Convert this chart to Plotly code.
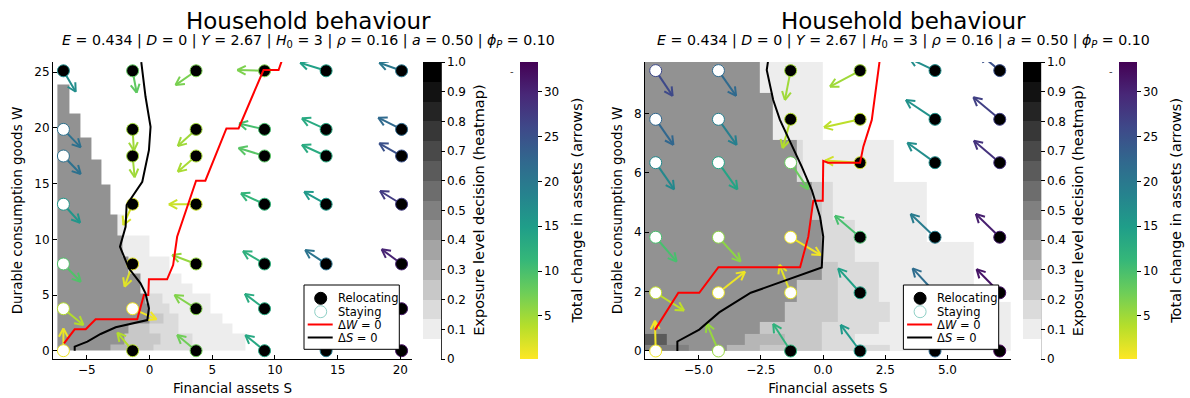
import math
import plotly.graph_objects as go
import plotly.colors as pc

# ---------------------------------------------------------------
# Shared scales
# ---------------------------------------------------------------
CHANGE_MIN, CHANGE_MAX = 0.2, 33.3          # arrow colour scale
CHANGE_TICKS = [5, 10, 15, 20, 25, 30]
N_BANDS = 15                                 # discrete exposure levels
EXPOSURE_TICKS = [0, 0.1, 0.2, 0.3, 0.4, 0.5, 0.6, 0.7, 0.8, 0.9, 1.0]
EXPOSURE_TICKTEXT = ["0", "0.1", "0.2", "0.3", "0.4", "0.5", "0.6", "0.7", "0.8", "0.9", "1.0"]

TITLE = "Household behaviour"
SUBTITLE = ("<i>E</i> = 0.434 | <i>D</i> = 0 | <i>Y</i> = 2.67 | <i>H</i><sub>0</sub> = 3 | "
            "<i>ρ</i> = 0.16 | <i>a</i> = 0.50 | <i>ϕ</i><sub><i>P</i></sub> = 0.10")
LEGEND_LABELS = ["Relocating", "Staying", "Δ<i>W</i> = 0", "Δ<i>S</i> = 0"]

# ---------------------------------------------------------------
# Left panel: wide state grid
# ---------------------------------------------------------------
L_S_PTS = [-6.87, -1.35, 3.71, 9.17, 14.08, 20.1]
L_W_PTS = [0.0, 3.77, 7.79, 13.15, 17.48, 19.87, 25.13]
L_S_RANGE = [-7.70, 20.93]
L_W_RANGE = [-0.745, 25.92]
# arrow heads, indexed [S column][W row]
L_END_S = [
    [-6.87, -5.27, -5.49, -5.54, -5.49, -5.49, -5.89],
    [-2.57, 0.56, -1.99, -2.09, -1.19, -1.25, -1.03],
    [2.20, 1.99, 1.80, 1.54, 2.25, 2.25, 2.07],
    [7.64, 7.60, 7.45, 7.29, 7.10, 7.14, 7.00],
    [12.50, 12.50, 12.41, 12.33, 12.15, 12.15, 12.01],
    [18.60, 18.60, 18.51, 18.38, 18.32, 18.24, 18.32],
]
L_END_W = [
    [2.00, 2.31, 6.19, 11.49, 15.86, 18.26, 23.25],
    [1.62, 2.82, 5.75, 11.28, 15.57, 17.95, 23.16],
    [1.41, 5.00, 8.59, 13.14, 16.07, 18.38, 23.85],
    [1.40, 5.10, 8.94, 14.13, 18.20, 20.40, 25.20],
    [1.60, 5.30, 9.04, 14.27, 18.47, 20.86, 25.85],
    [1.50, 5.20, 9.10, 14.34, 18.62, 20.92, 25.85],
]
L_CHANGE = [
    [1.0, 4.0, 9.5, 16.0, 21.0, 21.0, 17.0],
    [4.0, 0.8, 1.7, 2.2, 5.0, 5.0, 8.5],
    [7.5, 6.5, 5.5, 2.8, 4.5, 5.0, 7.0],
    [13.5, 13.0, 12.2, 11.5, 9.0, 10.0, 6.8],
    [19.0, 19.0, 20.5, 15.5, 13.0, 13.2, 14.5],
    [32.0, 31.0, 30.0, 27.5, 25.0, 22.0, 20.0],
]
L_STAY = [
    [1, 1, 1, 1, 1, 1, 0],
    [0, 1, 0, 0, 0, 0, 0],
    [0, 0, 0, 0, 0, 0, 0],
    [0, 0, 0, 0, 0, 0, 0],
    [0, 0, 0, 0, 0, 0, 0],
    [0, 0, 0, 0, 0, 0, 0],
]
L_DW0_S = [-6.82, -5.97, -5.09, -4.30, -0.98, -0.45, -0.10, -0.05, 1.40, 1.88, 2.20, 2.60,
           3.26, 3.71, 4.45, 6.13, 7.10, 9.09, 10.29, 10.60]
L_DW0_W = [0.66, 1.92, 1.92, 2.82, 2.82, 5.00, 5.00, 6.41, 6.41, 7.69, 10.23, 11.58,
           13.80, 15.26, 15.26, 19.96, 19.96, 25.20, 25.20, 26.20]
L_DS0_S = [-5.97, -5.97, -4.96, -3.90, -2.70, -1.25, -0.18, -0.05, -0.32, -0.72, -1.65, -2.36,
           -1.91, -1.83, -0.98, -0.58, -0.05, 0.08, -0.32, -0.66]
L_DS0_W = [0.0, 0.36, 0.81, 1.50, 2.10, 2.46, 2.75, 3.80, 5.15, 6.05, 7.40, 9.34,
           11.13, 13.08, 14.43, 15.17, 18.00, 20.10, 22.80, 25.90]
# exposure heatmap: row edges in W, and per row (S right edge, band) runs from the left edge
L_HM_S0 = -7.35
L_HM_W_EDGES = [0, 0.6, 1.5, 2.4, 3.3, 4.2, 5.1, 6.0, 6.9, 8.5, 10.3, 12.2, 14.9, 17.2, 19.1, 21.3, 23.9]
L_HM_ROWS = [
    [(-3.1, 6), (-1.3, 4), (0.3, 3), (3.4, 2), (7.64, 1)],
    [(-2.0, 6), (0.9, 3), (3.4, 2), (7.64, 1)],
    [(-1.65, 6), (-0.05, 3), (2.3, 2), (6.57, 1)],
    [(-0.05, 6), (1.1, 3), (2.3, 2), (5.78, 1)],
    [(-0.05, 6), (1.6, 2), (4.85, 1)],
    [(-0.3, 6), (1.0, 2), (4.85, 1)],
    [(-0.75, 6), (3.4, 1)],
    [(-0.75, 6), (2.5, 1)],
    [(-1.7, 6), (1.6, 1)],
    [(-2.2, 6), (-0.05, 1)],
    [(-2.57, 6), (-2.0, 1)],
    [(-3.1, 6)],
    [(-3.85, 6)],
    [(-4.65, 6)],
    [(-5.5, 6)],
    [(-6.4, 6)],
]

# ---------------------------------------------------------------
# Right panel: close-up around the origin
# ---------------------------------------------------------------
R_S_PTS = [-6.72, -4.2, -1.3, 1.49, 4.5, 7.1]
R_W_PTS = [0.0, 1.96, 3.83, 6.34, 7.8, 9.44]
R_S_RANGE = [-7.15, 7.54]
R_W_RANGE = [-0.27, 9.73]
R_END_S = [
    [-6.75, -5.58, -5.88, -5.98, -6.01, -6.04],
    [-4.67, -3.13, -3.31, -3.44, -3.47, -3.49],
    [-2.00, -1.75, -0.09, -0.59, -1.62, -1.53],
    [0.71, 0.61, 0.48, 0.08, 0.04, 0.28],
    [3.60, 3.60, 3.52, 3.39, 3.33, 3.47],
    [6.20, 6.17, 6.14, 6.06, 6.04, 6.30],
]
R_END_W = [
    [1.02, 1.36, 3.01, 5.44, 6.94, 8.59],
    [0.93, 2.67, 3.01, 5.44, 6.94, 8.59],
    [0.91, 2.90, 3.23, 5.44, 6.83, 8.45],
    [0.88, 2.78, 4.55, 6.41, 7.53, 8.90],
    [0.90, 2.78, 4.61, 7.01, 8.45, 9.85],
    [0.90, 2.75, 4.61, 7.08, 8.54, 10.00],
]
R_CHANGE = [
    [0.8, 3.3, 10.0, 17.8, 22.4, 26.0],
    [5.5, 1.0, 6.0, 14.0, 19.0, 22.0],
    [12.0, 1.5, 0.8, 8.0, 4.0, 5.0],
    [15.5, 14.5, 10.0, 2.5, 3.5, 5.0],
    [22.0, 21.5, 19.5, 17.0, 16.5, 17.0],
    [33.0, 31.5, 30.5, 28.5, 27.0, 25.0],
]
R_STAY = [
    [1, 1, 1, 1, 1, 1],
    [1, 1, 1, 1, 1, 1],
    [0, 1, 1, 1, 0, 0],
    [0, 0, 0, 0, 0, 0],
    [0, 0, 0, 0, 0, 0],
    [0, 0, 0, 0, 0, 0],
]
R_DW0_S = [-6.75, -5.81, -4.97, -4.20, -0.92, -0.59, -0.39, -0.01, 0.01, 0.20, 1.49, 1.62, 1.96, 2.09, 2.28]
R_DW0_W = [0.71, 1.96, 1.96, 2.82, 2.82, 3.85, 5.06, 5.06, 6.40, 6.34, 6.34, 6.88, 7.78, 8.56, 9.80]
R_DS0_S = [-5.85, -5.85, -4.97, -4.17, -2.90, -1.52, -0.05, 0.01, -0.12, -0.45, -0.85, -1.73, -2.00, -2.26, -2.20]
R_DS0_W = [0.0, 0.32, 0.72, 1.30, 1.96, 2.36, 2.81, 3.85, 4.52, 5.42, 6.20, 7.78, 8.45, 9.46, 9.80]
R_HM_S0 = -7.2
R_HM_W_EDGES = [0, 0.2, 0.57, 0.99, 1.66, 2.39, 3.0, 3.68, 4.41, 5.7, 7.1, 8.68, 9.8]
R_HM_ROWS = [
    [(-5.41, 7), (-3.87, 6), (-2.53, 4), (-0.06, 3), (2.7, 2), (7.6, 1)],
    [(-6.28, 9), (-3.13, 6), (-1.53, 4), (-0.06, 3), (1.28, 2), (7.6, 1)],
    [(-2.53, 6), (-0.06, 3), (2.22, 2), (7.6, 1)],
    [(-1.53, 6), (0.61, 3), (2.7, 2), (7.6, 1)],
    [(-1.06, 6), (0.61, 3), (2.22, 2), (6.04, 1)],
    [(-0.06, 6), (0.61, 3), (2.22, 2), (6.04, 1)],
    [(-0.06, 6), (1.28, 2), (6.04, 1)],
    [(-0.06, 6), (1.28, 2), (4.16, 1)],
    [(-0.46, 6), (-0.06, 3), (0.41, 2), (4.16, 1)],
    [(-1.06, 6), (-0.8, 2), (2.83, 1)],
    [(-2.0, 6), (0.01, 1)],
    [(-2.53, 6), (0.01, 1)],
]

# ---------------------------------------------------------------
# Helpers
# ---------------------------------------------------------------
VIRIDIS = [pc.hex_to_rgb(c) for c in pc.sequential.Viridis]


def change_color(v):
    """Reversed viridis: small changes yellow, large changes purple."""
    t = (v - CHANGE_MIN) / (CHANGE_MAX - CHANGE_MIN)
    u = min(max(1.0 - t, 0.0), 1.0) * (len(VIRIDIS) - 1)
    i = min(int(u), len(VIRIDIS) - 2)
    f = u - i
    a, b = VIRIDIS[i], VIRIDIS[i + 1]
    return "rgb({},{},{})".format(*[round(a[k] + (b[k] - a[k]) * f) for k in range(3)])


def band_colorscale():
    cs = []
    for i in range(N_BANDS):
        g = round(255 * (1 - i / (N_BANDS - 1)))
        col = f"rgb({g},{g},{g})"
        cs.append([i / N_BANDS, col])
        cs.append([(i + 1) / N_BANDS, col])
    return cs


def build_heatmap(s0, rows):
    edges = sorted({s0} | {s for row in rows for s, _ in row})
    z = []
    for row in rows:
        line = []
        for a, b in zip(edges[:-1], edges[1:]):
            mid = 0.5 * (a + b)
            band = 0
            for s_end, bnd in row:
                if mid < s_end:
                    band = bnd
                    break
            line.append(None if band == 0 else (band + 0.5) / N_BANDS)
        z.append(line)
    return edges, z


# page geometry in pixels -> paper fractions
W_PX, H_PX = 1190, 398


def px(xp):
    return xp / W_PX


def py(yp):
    return 1 - yp / H_PX


Y_DOM = [py(359), py(62)]
BAR_Y = py(210.5)
BAR_LEN = 297
BAR_THICK = 18
HEAD_LEN = 9.5        # arrow barb length, px
HEAD_ANGLE = 28       # arrow barb half-angle, degrees


def arrow_path(sx, sy, ex, ey, kx, ky):
    """Shaft plus an open V head; barbs sized in screen pixels."""
    dx, dy = (ex - sx) * kx, (ey - sy) * ky
    ang = math.atan2(dy, dx)
    xs, ys = [sx, ex, None], [sy, ey, None]
    for sgn in (1, -1):
        a = ang + math.pi - sgn * math.radians(HEAD_ANGLE)
        xs += [ex + HEAD_LEN * math.cos(a) / kx, ex, None]
        ys += [ey + HEAD_LEN * math.sin(a) / ky, ey, None]
    return xs, ys


PANELS = [
    dict(xa="x", ya="y", s_pts=L_S_PTS, w_pts=L_W_PTS, s_range=L_S_RANGE, w_range=L_W_RANGE,
         dom=[53, 412], end_s=L_END_S, end_w=L_END_W, change=L_CHANGE, stay=L_STAY,
         dw_s=L_DW0_S, dw_w=L_DW0_W, ds_s=L_DS0_S, ds_w=L_DS0_W,
         hm_s0=L_HM_S0, hm_w=L_HM_W_EDGES, hm_rows=L_HM_ROWS,
         s_ticks=[-5, 0, 5, 10, 15, 20], w_ticks=[0, 5, 10, 15, 20, 25], s_fmt="",
         gray_bar=423.3, arrow_bar=520.0, center=308.0, legend_right=399.3),
    dict(xa="x2", ya="y2", s_pts=R_S_PTS, w_pts=R_W_PTS, s_range=R_S_RANGE, w_range=R_W_RANGE,
         dom=[645, 1010.7], end_s=R_END_S, end_w=R_END_W, change=R_CHANGE, stay=R_STAY,
         dw_s=R_DW0_S, dw_w=R_DW0_W, ds_s=R_DS0_S, ds_w=R_DS0_W,
         hm_s0=R_HM_S0, hm_w=R_HM_W_EDGES, hm_rows=R_HM_ROWS,
         s_ticks=[-5, -2.5, 0, 2.5, 5], w_ticks=[0, 2, 4, 6, 8], s_fmt=".1f",
         gray_bar=1022.7, arrow_bar=1119.3, center=903.0, legend_right=998.7),
]

fig = go.Figure()
annotations = []
shapes = []
axis_style = dict(showline=True, linecolor="black", linewidth=1, ticks="inside", ticklen=4,
                  tickcolor="black", showgrid=False, zeroline=False, mirror=False,
                  tickfont=dict(size=12, color="black"))
layout_axes = {}

for n, p in enumerate(PANELS):
    xa, ya = p["xa"], p["ya"]
    suffix = "" if n == 0 else str(n + 1)
    layout_axes["xaxis" + suffix] = dict(
        domain=[px(p["dom"][0]), px(p["dom"][1])], range=p["s_range"], anchor=ya,
        tickvals=p["s_ticks"], tickformat=p["s_fmt"],
        title=dict(text="Financial assets S", standoff=7, font=dict(size=13.5)), **axis_style)
    layout_axes["yaxis" + suffix] = dict(
        domain=Y_DOM, range=p["w_range"], anchor=xa, tickvals=p["w_ticks"],
        title=dict(text="Durable consumption goods W", standoff=8, font=dict(size=13.5)),
        **axis_style)

    # pixels per data unit on this panel's axes (for arrow-head geometry)
    kx = (p["dom"][1] - p["dom"][0]) / (p["s_range"][1] - p["s_range"][0])
    ky = (359 - 62) / (p["w_range"][1] - p["w_range"][0])

    # exposure heatmap
    hm_x, hm_z = build_heatmap(p["hm_s0"], p["hm_rows"])
    fig.add_trace(go.Heatmap(
        x=hm_x, y=p["hm_w"], z=hm_z, xaxis=xa, yaxis=ya,
        zmin=0, zmax=1, colorscale=band_colorscale(), hoverinfo="skip",
        colorbar=dict(
            x=px(p["gray_bar"]), xanchor="left", y=BAR_Y, yanchor="middle",
            len=BAR_LEN, lenmode="pixels", thickness=BAR_THICK, xpad=0, ypad=0,
            outlinewidth=0, ticks="outside", ticklen=4, tickcolor="black",
            tickvals=EXPOSURE_TICKS, ticktext=EXPOSURE_TICKTEXT,
            tickfont=dict(size=12, color="black"),
        ),
    ))
    bx = px(p["gray_bar"] + BAR_THICK)
    shapes.append(dict(type="line", xref="paper", yref="paper", x0=bx, x1=bx,
                       y0=Y_DOM[0], y1=Y_DOM[1], line=dict(color="black", width=1)))
    annotations.append(dict(x=px(p["gray_bar"] + 55), y=BAR_Y, xref="paper", yref="paper",
                            text="Exposure level decision (heatmap)", textangle=-90,
                            showarrow=False, xanchor="center", yanchor="middle",
                            font=dict(size=14.5, color="black")))

    # grid of states
    sx_all, sy_all, ex_all, ey_all, c_all, stay_flags = [], [], [], [], [], []
    for ci, s in enumerate(p["s_pts"]):
        for ri, w in enumerate(p["w_pts"]):
            sx_all.append(s)
            sy_all.append(w)
            ex_all.append(p["end_s"][ci][ri])
            ey_all.append(p["end_w"][ci][ri])
            c_all.append(p["change"][ci][ri])
            stay_flags.append(p["stay"][ci][ri])

    # arrows from each state to its successor
    for sx, sy, ex, ey, c in zip(sx_all, sy_all, ex_all, ey_all, c_all):
        ax_x, ax_y = arrow_path(sx, sy, ex, ey, kx, ky)
        fig.add_trace(go.Scatter(x=ax_x, y=ax_y, xaxis=xa, yaxis=ya, mode="lines",
                                 line=dict(color=change_color(c), width=2),
                                 showlegend=False, hoverinfo="skip"))

    # invisible markers at the arrow heads carry the arrow colour bar
    fig.add_trace(go.Scatter(
        x=ex_all, y=ey_all, xaxis=xa, yaxis=ya, mode="markers", showlegend=False,
        hoverinfo="skip",
        marker=dict(size=2, opacity=0, color=c_all, cmin=CHANGE_MIN, cmax=CHANGE_MAX,
                    colorscale="Viridis", reversescale=True, showscale=True,
                    colorbar=dict(
                        x=px(p["arrow_bar"]), xanchor="left", y=BAR_Y, yanchor="middle",
                        len=BAR_LEN, lenmode="pixels", thickness=BAR_THICK, xpad=0, ypad=0,
                        outlinewidth=0, ticks="outside", ticklen=4, tickcolor="black",
                        tickvals=CHANGE_TICKS, tickfont=dict(size=12, color="black"),
                    )),
    ))
    annotations.append(dict(x=px(p["arrow_bar"] + 56), y=BAR_Y, xref="paper", yref="paper",
                            text="Total change in assets (arrows)", textangle=-90,
                            showarrow=False, xanchor="center", yanchor="middle",
                            font=dict(size=14.5, color="black")))
    annotations.append(dict(x=px(p["arrow_bar"] - 8.3), y=py(71.7), xref="paper",
                            yref="paper", text="-", showarrow=False, xanchor="center",
                            yanchor="middle", font=dict(size=10, color="#444")))

    # relocating / staying states
    for flag, fill in ((0, "black"), (1, "white")):
        idx = [i for i, f in enumerate(stay_flags) if f == flag]
        fig.add_trace(go.Scatter(
            x=[sx_all[i] for i in idx], y=[sy_all[i] for i in idx],
            xaxis=xa, yaxis=ya, mode="markers", showlegend=False, hoverinfo="skip",
            cliponaxis=False,
            marker=dict(size=12, color=fill,
                        line=dict(width=1, color=[change_color(c_all[i]) for i in idx])),
        ))

    # nullclines
    fig.add_trace(go.Scatter(x=p["dw_s"], y=p["dw_w"], xaxis=xa, yaxis=ya, mode="lines",
                             line=dict(color="red", width=2), showlegend=False, hoverinfo="skip"))
    fig.add_trace(go.Scatter(x=p["ds_s"], y=p["ds_w"], xaxis=xa, yaxis=ya, mode="lines",
                             line=dict(color="black", width=2), showlegend=False, hoverinfo="skip"))

    # legend box
    r = p["legend_right"]
    l = r - 95.3
    shapes.append(dict(type="rect", xref="paper", yref="paper", x0=px(l), x1=px(r),
                       y0=py(349.3), y1=py(285), fillcolor="white",
                       line=dict(color="black", width=1), layer="above"))
    rows_y = [298.3, 311.7, 324.5, 337.5]
    cx = l + 16.7
    for k, (label, ry) in enumerate(zip(LEGEND_LABELS, rows_y)):
        if k < 2:
            fill = "black" if k == 0 else "white"
            edge = "black" if k == 0 else "#8fd0c6"
            shapes.append(dict(type="circle", xref="paper", yref="paper",
                               x0=px(cx - 6), x1=px(cx + 6), y0=py(ry + 6), y1=py(ry - 6),
                               fillcolor=fill, line=dict(color=edge, width=1), layer="above"))
        else:
            col = "red" if k == 2 else "black"
            shapes.append(dict(type="line", xref="paper", yref="paper",
                               x0=px(l + 3.7), x1=px(l + 28.7), y0=py(ry), y1=py(ry),
                               line=dict(color=col, width=2), layer="above"))
        annotations.append(dict(x=px(l + 32), y=py(ry), xref="paper", yref="paper",
                                text=label, showarrow=False, xanchor="left", yanchor="middle",
                                font=dict(size=11.5, color="black")))

    # titles
    annotations.append(dict(x=px(p["center"]), y=py(21), xref="paper", yref="paper",
                            text=TITLE, showarrow=False, xanchor="center", yanchor="middle",
                            font=dict(size=23, color="black")))
    annotations.append(dict(x=px(p["center"]), y=py(41), xref="paper", yref="paper",
                            text=SUBTITLE, showarrow=False, xanchor="center", yanchor="middle",
                            font=dict(size=14.2, color="black")))

fig.update_layout(
    width=W_PX, height=H_PX, margin=dict(l=0, r=0, t=0, b=0),
    plot_bgcolor="white", paper_bgcolor="white", showlegend=False,
    font=dict(family="DejaVu Sans", color="black"),
    annotations=annotations,
    shapes=shapes,
    **layout_axes,
)

fig.write_html("out.html")
